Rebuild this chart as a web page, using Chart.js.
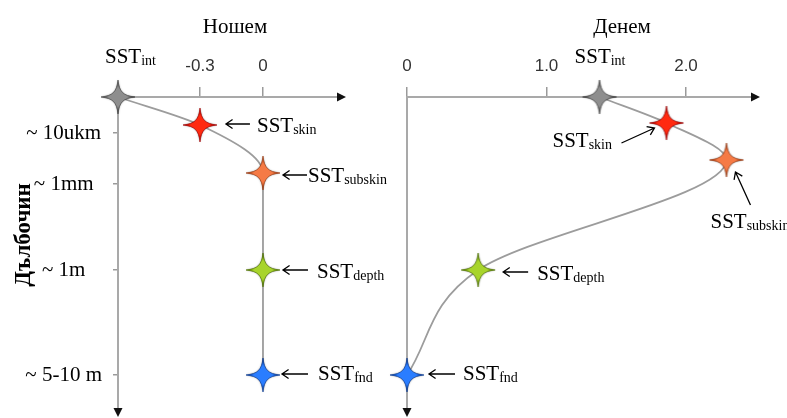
<!DOCTYPE html>
<html><head><meta charset="utf-8">
<script src="https://cdn.jsdelivr.net/npm/chart.js@4.4.1/dist/chart.umd.min.js"></script>
<style>
html,body{margin:0;padding:0;background:#fff;overflow:hidden;}
#wrap{position:relative;width:787px;height:418px;background:#fff;}
canvas{position:absolute;left:0;top:0;}
</style></head><body>
<div id="wrap"><canvas id="night" width="787" height="418"></canvas><canvas id="day" width="787" height="418"></canvas></div>
<script>
// ---- data ----
const levelNames = ['int', 'skin', 'subskin', 'depth', 'fnd'];
const depthTickValues = [36, 87, 173, 278];
const depthTickLabels = ['~ 10ukm', '~ 1mm', '~ 1m', '~ 5-10 m'];
const depthTitle = 'Дълбочин';
const panelTitles = ['Ношем', 'Денем'];

const nightDepth = [0, 28, 76, 173, 278];
const nightTemp = [-0.69, -0.3, 0, 0, 0];
const nightTickValues = [-0.3, 0];
const nightTickLabels = ['-0.3', '0'];

const dayDepth = [0, 26, 63, 173, 278];
const dayTemp = [1.38, 1.86, 2.29, 0.51, 0];
const dayTickValues = [0, 1, 2];
const dayTickLabels = ['0', '1.0', '2.0'];

// ---- styling ----
const starColors = [
  ['#8e8e8e', '#444444'],
  ['#ff2a10', '#a00000'],
  ['#f57a45', '#9a3a12'],
  ['#a8d42c', '#4f7300'],
  ['#2a7dff', '#0a3a90']
];
function makeStar(fill, edge) {
  const s = 40, c = 20, R = 17;
  const cv = document.createElement('canvas');
  cv.width = s; cv.height = s;
  const g = cv.getContext('2d');
  const a = 1.4, b = 5.0;
  g.beginPath();
  g.moveTo(c, c - R);
  g.bezierCurveTo(c + a, c - b, c + b, c - a, c + R, c);
  g.bezierCurveTo(c + b, c + a, c + a, c + b, c, c + R);
  g.bezierCurveTo(c - a, c + b, c - b, c + a, c - R, c);
  g.bezierCurveTo(c - b, c - a, c - a, c - b, c, c - R);
  g.closePath();
  const grad = g.createRadialGradient(c, c, 0, c, c, R);
  grad.addColorStop(0, fill);
  grad.addColorStop(0.5, fill);
  grad.addColorStop(1, edge);
  g.shadowColor = 'rgba(0,0,0,0.5)';
  g.shadowBlur = 2;
  g.fillStyle = grad;
  g.fill();
  g.shadowBlur = 0;
  g.lineWidth = 0.9;
  g.strokeStyle = edge;
  g.globalAlpha = 0.75;
  g.stroke();
  return cv;
}
const stars = starColors.map(c => makeStar(c[0], c[1]));

function drawArrow(ctx, tx, ty, hx, hy) {
  ctx.save();
  ctx.strokeStyle = '#000';
  ctx.lineWidth = 1.3;
  ctx.beginPath();
  ctx.moveTo(tx, ty); ctx.lineTo(hx, hy);
  const ang = Math.atan2(hy - ty, hx - tx);
  const L = 8, w = 0.6;
  ctx.moveTo(hx - L * Math.cos(ang - w), hy - L * Math.sin(ang - w));
  ctx.lineTo(hx, hy);
  ctx.lineTo(hx - L * Math.cos(ang + w), hy - L * Math.sin(ang + w));
  ctx.stroke();
  ctx.restore();
}
function drawSST(ctx, x, y, sub) {
  ctx.textAlign = 'left';
  ctx.textBaseline = 'alphabetic';
  ctx.fillStyle = '#000';
  ctx.font = '21px "Liberation Serif"';
  ctx.fillText('SST', x, y);
  const w = ctx.measureText('SST').width;
  ctx.font = '14px "Liberation Serif"';
  ctx.fillText(sub, x + w, y + 2);
}

const annotate = {
  id: 'annotate',
  afterDatasetsDraw(chart, args, opts) {
    const ctx = chart.ctx;
    const ca = chart.chartArea;
    const pts = chart.getDatasetMeta(0).data;
    ctx.save();
    // axis arrowheads
    ctx.fillStyle = '#111';
    ctx.beginPath();
    ctx.moveTo(ca.right - 1, ca.top - 4.5); ctx.lineTo(ca.right + 8, ca.top); ctx.lineTo(ca.right - 1, ca.top + 4.5);
    ctx.closePath(); ctx.fill();
    ctx.beginPath();
    ctx.moveTo(ca.left - 4.5, ca.bottom - 1); ctx.lineTo(ca.left, ca.bottom + 8); ctx.lineTo(ca.left + 4.5, ca.bottom - 1);
    ctx.closePath(); ctx.fill();
    // panel title
    ctx.fillStyle = '#000';
    ctx.font = '21px "Liberation Serif"';
    ctx.textAlign = 'center';
    ctx.textBaseline = 'alphabetic';
    ctx.fillText(opts.title, opts.titlePos[0], opts.titlePos[1]);
    // depth title
    if (opts.yTitle) {
      ctx.save();
      ctx.translate(opts.yTitlePos[0], opts.yTitlePos[1]);
      ctx.rotate(-Math.PI / 2);
      ctx.font = 'bold 23px "Liberation Serif"';
      ctx.textAlign = 'center';
      ctx.textBaseline = 'middle';
      ctx.fillText(opts.yTitle, 0, 0);
      ctx.restore();
    }
    // point labels
    opts.labels.forEach((L, i) => {
      const p = pts[i];
      if (!p) return;
      if (L.arrow) drawArrow(ctx, p.x + L.arrow[0], p.y + L.arrow[1], p.x + L.arrow[2], p.y + L.arrow[3]);
      drawSST(ctx, p.x + L.text[0], p.y + L.text[1], levelNames[i]);
    });
    ctx.restore();
  }
};

function makeChart(id, temps, depths, tickVals, tickLabs, cfg) {
  return new Chart(document.getElementById(id), {
    type: 'line',
    data: {
      datasets: [{
        data: temps.map((t, i) => ({ x: t, y: depths[i] })),
        borderColor: '#9c9c9c',
        borderWidth: 1.8,
        cubicInterpolationMode: 'monotone',
        pointStyle: stars,
        pointRadius: 17,
        clip: false,
        fill: false
      }]
    },
    options: {
      indexAxis: 'y',
      responsive: false,
      animation: false,
      events: [],
      layout: { autoPadding: false, padding: { left: 0, top: 0, right: cfg.padRight, bottom: 9 } },
      plugins: {
        legend: { display: false },
        tooltip: { enabled: false },
        annotate: cfg.annot
      },
      scales: {
        x: {
          type: 'linear', position: 'top', min: cfg.xMin, max: cfg.xMax,
          afterBuildTicks: s => { s.ticks = tickVals.map(v => ({ value: v })); },
          afterFit: s => { s.height = 97; s.paddingLeft = 0; s.paddingRight = 0; },
          ticks: {
            autoSkip: false, maxRotation: 0, padding: 10, color: '#333',
            font: { family: 'Liberation Sans', size: 17 },
            callback: (v, i) => tickLabs[i]
          },
          grid: { drawOnChartArea: false, drawTicks: true, tickLength: 10, color: '#9a9a9a', lineWidth: 1.5 },
          border: { display: true, color: '#a9a9a9', width: 2 }
        },
        y: {
          type: 'linear', position: 'left', reverse: true, min: 0, max: 312,
          afterBuildTicks: s => { s.ticks = depthTickValues.map(v => ({ value: v })); },
          afterFit: s => { s.width = cfg.yWidth; s.paddingTop = 0; s.paddingBottom = 0; },
          ticks: {
            display: cfg.yLabels, autoSkip: false, padding: 11, crossAlign: 'center', color: '#000',
            font: { family: 'Liberation Serif', size: 21 },
            callback: (v, i) => depthTickLabels[i]
          },
          grid: { display: cfg.yLabels, drawOnChartArea: false, drawTicks: true, tickLength: 5, color: '#9a9a9a', lineWidth: 1.5 },
          border: { display: true, color: '#a9a9a9', width: 2 }
        }
      }
    },
    plugins: [annotate]
  });
}

makeChart('night', nightTemp, nightDepth, nightTickValues, nightTickLabels, {
  xMin: -0.69, xMax: 0.357, yWidth: 118, padRight: 449, yLabels: true,
  annot: {
    title: panelTitles[0], titlePos: [235, 33],
    yTitle: depthTitle, yTitlePos: [24, 235],
    labels: [
      { text: [-13, -34] },
      { text: [57, 7], arrow: [50, -1, 26, -1] },
      { text: [45, 9], arrow: [44, 2, 20, 2] },
      { text: [54, 8], arrow: [45, 0, 20, 0] },
      { text: [55, 5], arrow: [45, -1, 19, -1] }
    ]
  }
});
makeChart('day', dayTemp, dayDepth, dayTickValues, dayTickLabels, {
  xMin: 0, xMax: 2.473, yWidth: 407, padRight: 35, yLabels: false,
  annot: {
    title: panelTitles[1], titlePos: [622, 33],
    labels: [
      { text: [-25, -34] },
      { text: [-114, 24], arrow: [-45, 20, -12, 5] },
      { text: [-16, 68], arrow: [24, 45, 9, 12] },
      { text: [59, 10], arrow: [50, 2, 25, 2] },
      { text: [56, 5], arrow: [48, -1, 22, -1] }
    ]
  }
});
</script>
</body></html>
